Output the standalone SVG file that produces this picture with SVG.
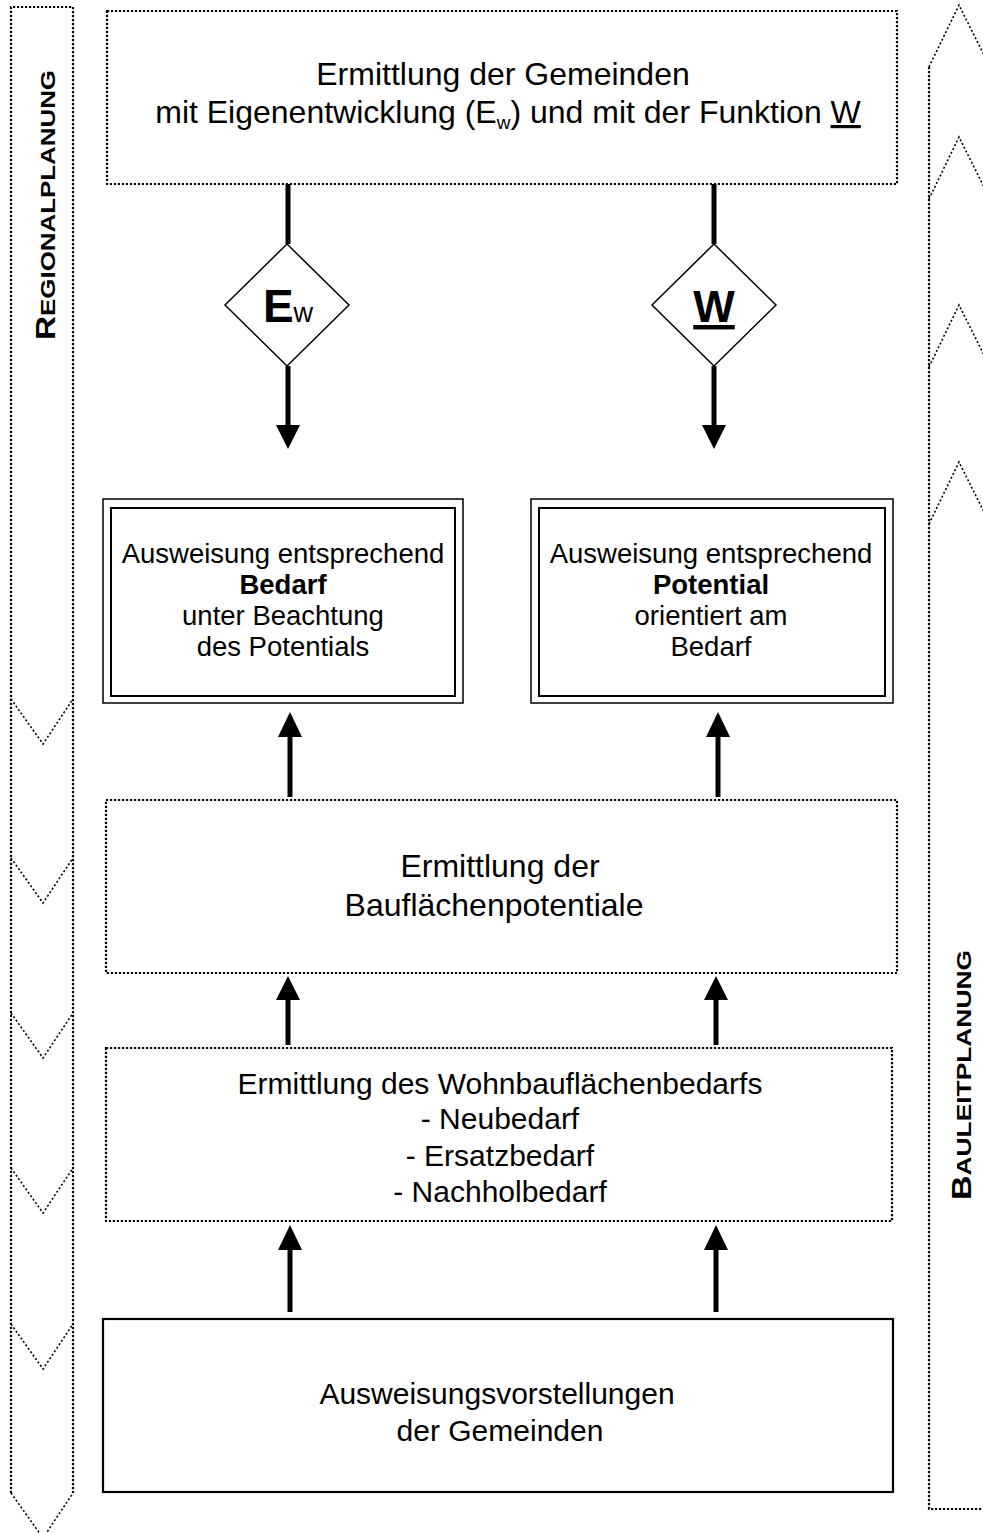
<svg xmlns="http://www.w3.org/2000/svg" width="983" height="1533" viewBox="0 0 983 1533">
<style>
.t{font-family:"Liberation Sans",Arial,sans-serif;fill:#000;text-anchor:middle}
.v{font-family:"Liberation Sans",Arial,sans-serif;fill:#000;font-weight:bold}
.dot{fill:none;stroke:#000;stroke-width:2.2;stroke-dasharray:2.2 1.8}
.chev{fill:none;stroke:#000;stroke-width:1.6;stroke-dasharray:2 2.2}
.ln{stroke:#000;stroke-width:5;fill:none}
.hd{fill:#000}
</style>
<rect width="983" height="1533" fill="#fff"/>
<g id="band-left">
<path class="dot" d="M11,1493 V7 H73 V1493"/>
<path class="chev" d="M11,699 L43,744 L73,699 M11,858 L43,903 L73,858 M11,1013 L43,1058 L73,1013 M11,1168 L43,1213 L73,1168 M11,1324 L43,1369 L73,1324 M11,1493 L43,1538 L73,1493"/>
<text class="v" transform="translate(55,340) rotate(-90)" textLength="270" lengthAdjust="spacingAndGlyphs"><tspan font-size="27">R</tspan><tspan font-size="21">EGIONALPLANUNG</tspan></text>
</g>
<g id="band-right">
<path class="dot" d="M929,67 V1509 H990"/>
<path class="chev" d="M929,67 L959,5 L990,67 M929,199 L959,137 L990,199 M929,367 L959,305 L990,367 M929,524 L959,462 L990,524"/>
<text class="v" transform="translate(971,1200) rotate(-90)" textLength="250" lengthAdjust="spacingAndGlyphs"><tspan font-size="27">B</tspan><tspan font-size="21">AULEITPLANUNG</tspan></text>
</g>
<g id="n-top">
<rect class="dot" x="107" y="11" width="790" height="173"/>
<text class="t" font-size="32" x="503" y="85">Ermittlung der Gemeinden</text>
<text class="t" font-size="32" x="508" y="123">mit Eigenentwicklung (E<tspan font-size="19" dy="6">w</tspan><tspan dy="-6">) und mit der Funktion </tspan><tspan text-decoration="underline">W</tspan></text>
</g>
<g id="n-ew">
<polygon points="287,244 349,305 287,366 225,305" fill="#fff" stroke="#000" stroke-width="1.5"/>
<text class="t" x="288" y="322"><tspan font-size="46" font-weight="bold">E</tspan><tspan font-size="27">w</tspan></text>
</g>
<g id="n-w">
<polygon points="714,244 776,305 714,366 652,305" fill="#fff" stroke="#000" stroke-width="1.5"/>
<text class="t" x="714" y="322" font-size="44" font-weight="bold" text-decoration="underline">W</text>
</g>
<g id="n-bedarf">
<rect x="103" y="499" width="360" height="204" fill="none" stroke="#000" stroke-width="1.5"/>
<rect x="111" y="508" width="344" height="188" fill="none" stroke="#000" stroke-width="2"/>
<text class="t" font-size="27.5" x="283" y="563">Ausweisung entsprechend</text>
<text class="t" font-size="27.5" x="283" y="594" font-weight="bold">Bedarf</text>
<text class="t" font-size="27.5" x="283" y="625">unter Beachtung</text>
<text class="t" font-size="27.5" x="283" y="656">des Potentials</text>
</g>
<g id="n-potential">
<rect x="531" y="499" width="362" height="204" fill="none" stroke="#000" stroke-width="1.5"/>
<rect x="539" y="508" width="346" height="188" fill="none" stroke="#000" stroke-width="2"/>
<text class="t" font-size="27.5" x="711" y="563">Ausweisung entsprechend</text>
<text class="t" font-size="27.5" x="711" y="594" font-weight="bold">Potential</text>
<text class="t" font-size="27.5" x="711" y="625">orientiert am</text>
<text class="t" font-size="27.5" x="711" y="656">Bedarf</text>
</g>
<g id="n-potentiale">
<rect class="dot" x="106" y="800" width="791" height="173"/>
<text class="t" font-size="32" x="500" y="877">Ermittlung der</text>
<text class="t" font-size="32" x="494" y="916">Bauflächenpotentiale</text>
</g>
<g id="n-wohnbau">
<rect class="dot" x="106" y="1048" width="786" height="173"/>
<text class="t" font-size="30" x="500" y="1094">Ermittlung des Wohnbauflächenbedarfs</text>
<text class="t" font-size="30" x="500" y="1129">- Neubedarf</text>
<text class="t" font-size="30" x="500" y="1166">- Ersatzbedarf</text>
<text class="t" font-size="30" x="500" y="1202">- Nachholbedarf</text>
</g>
<g id="n-vorstellungen">
<rect x="103" y="1319" width="790" height="173" fill="none" stroke="#000" stroke-width="2.2"/>
<text class="t" font-size="30" x="497" y="1404">Ausweisungsvorstellungen</text>
<text class="t" font-size="30" x="500" y="1441">der Gemeinden</text>
</g>
<g id="connectors">
<line class="ln" x1="288" y1="184" x2="288" y2="244"/>
<line class="ln" x1="288" y1="366" x2="288" y2="427"/>
<polygon class="hd" points="276,425 300,425 288,449"/>
<line class="ln" x1="714" y1="184" x2="714" y2="244"/>
<line class="ln" x1="714" y1="366" x2="714" y2="427"/>
<polygon class="hd" points="702,425 726,425 714,449"/>
<line class="ln" x1="290" y1="797" x2="290" y2="735"/>
<polygon class="hd" points="278,737 302,737 290,712"/>
<line class="ln" x1="718" y1="797" x2="718" y2="735"/>
<polygon class="hd" points="706,737 730,737 718,712"/>
<line class="ln" x1="288" y1="1045" x2="288" y2="998"/>
<polygon class="hd" points="276,1000 300,1000 288,976"/>
<line class="ln" x1="716" y1="1045" x2="716" y2="998"/>
<polygon class="hd" points="704,1000 728,1000 716,976"/>
<line class="ln" x1="290" y1="1312" x2="290" y2="1248"/>
<polygon class="hd" points="278,1250 302,1250 290,1225"/>
<line class="ln" x1="716" y1="1312" x2="716" y2="1248"/>
<polygon class="hd" points="704,1250 728,1250 716,1225"/>
</g>
</svg>
